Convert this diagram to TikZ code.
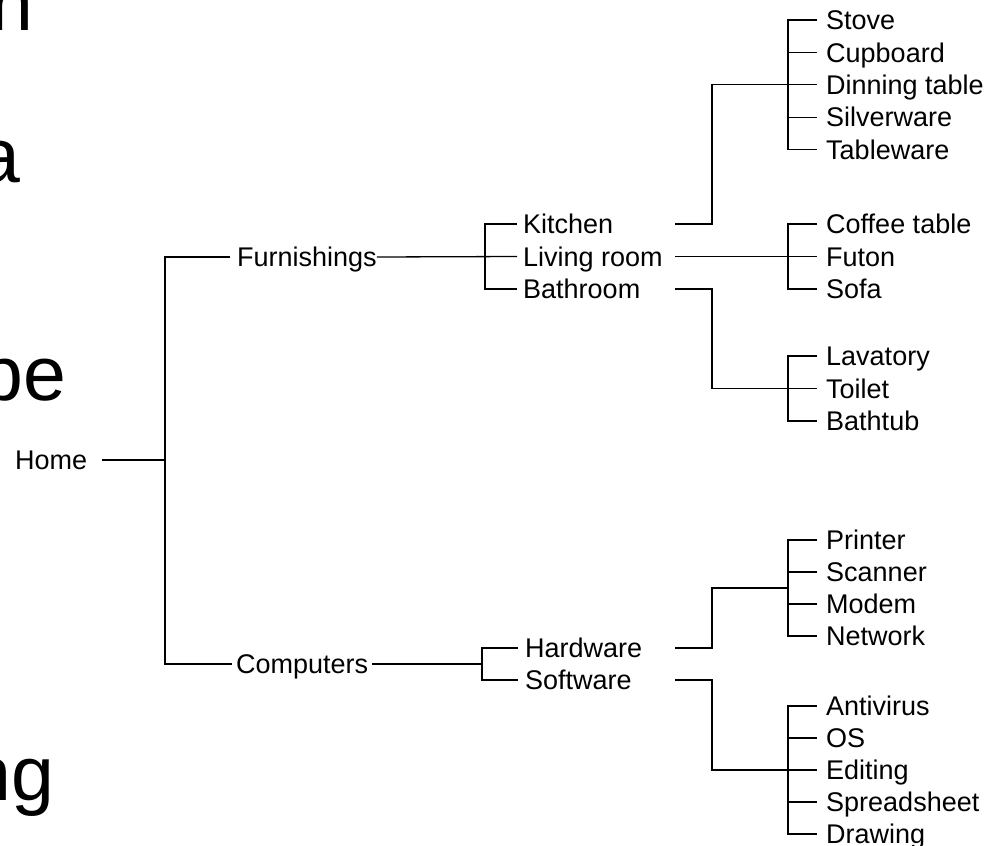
\documentclass[tikz,border=0pt]{standalone}
\usepackage{fontspec}
\setmainfont{Liberation Sans}
\tikzset{
  lbl/.style={anchor=west, inner xsep=0pt, inner ysep=0pt, text height=19.3pt, text depth=0pt, font=\fontsize{27}{27}\selectfont},
  big/.style={anchor=base west, inner sep=0pt, font=\fontsize{77}{77}\selectfont},
  conn/.style={line width=1.3pt, black}
}
\begin{document}
\begin{tikzpicture}[x=1pt,y=-1pt]
\useasboundingbox (0,0) rectangle (988,846);
% large text fragments cut by the left edge
\node[big] (bn) at (-9.7,30) {n};
\node[big] (ba) at (-22.8,182) {a};
\node[big] (bbe) at (-20,400) {be};
\node[big] (bng) at (-32,800) {ng};
% main labels
\node[lbl] (home) at (15,460) {Home};
\node[lbl] (furn) at (237,257) {Furnishings};
\node[lbl] (comp) at (236,664) {Computers};
\node[lbl] (kit) at (523,224) {Kitchen};
\node[lbl] (liv) at (523,256.5) {Living room};
\node[lbl] (bath) at (523,289) {Bathroom};
\node[lbl] (hw) at (525,648) {Hardware};
\node[lbl] (sw) at (525,680) {Software};
% leaves
\node[lbl] (stove) at (826,20) {Stove};
\node[lbl] (cb) at (826,52.4) {Cupboard};
\node[lbl] (dt) at (826,84.8) {Dinning table};
\node[lbl] (sil) at (826,117.2) {Silverware};
\node[lbl] (tw) at (826,149.6) {Tableware};
\node[lbl] (cof) at (826,224) {Coffee table};
\node[lbl] (fut) at (826,256.5) {Futon};
\node[lbl] (sofa) at (826,289) {Sofa};
\node[lbl] (lav) at (826,356) {Lavatory};
\node[lbl] (toil) at (826,388.5) {Toilet};
\node[lbl] (tub) at (826,421) {Bathtub};
\node[lbl] (pr) at (826,540) {Printer};
\node[lbl] (sc) at (826,572) {Scanner};
\node[lbl] (mo) at (826,604) {Modem};
\node[lbl] (net) at (826,636) {Network};
\node[lbl] (av) at (826,706) {Antivirus};
\node[lbl] (os) at (826,738) {OS};
\node[lbl] (ed) at (826,770) {Editing};
\node[lbl] (ss) at (826,802) {Spreadsheet};
\node[lbl] (dr) at (826,834) {Drawing};
% junction coordinates
\coordinate (t) at (165,460);
\coordinate (b1) at (485,256.5);
\coordinate (b2) at (482,664);
\coordinate (kx) at (675,224);
\coordinate (lx) at (675,256.5);
\coordinate (bx) at (675,289);
\coordinate (hx) at (675,648);
\coordinate (sx) at (675,680);
\coordinate (kv) at (712,84.8);
\coordinate (bv) at (712,388.5);
\coordinate (hv) at (712,588);
\coordinate (sv) at (712,770);
\coordinate (r1) at (788,84.8);
\coordinate (r2) at (788,256.5);
\coordinate (r3) at (788,388.5);
\coordinate (r4) at (788,588);
\coordinate (r5) at (788,770);
% trunk
\draw[conn] ([xshift=15pt]home.east) -- (t);
\draw[conn] ([xshift=-7pt]furn.west) -| (t) |- ([xshift=-4pt]comp.west);
% furnishings
\draw[conn] (furn.east) -- ([xshift=-6pt]liv.west);
\draw[conn] ([xshift=-6pt]kit.west) -| (b1) |- ([xshift=-6pt]bath.west);
% computers
\draw[conn] ([xshift=4pt]comp.east) -- (b2);
\draw[conn] ([xshift=-7pt]hw.west) -| (b2) |- ([xshift=-7pt]sw.west);
% kitchen
\draw[conn] (kx) -| (kv) -- ([xshift=-9pt]dt.west);
\draw[conn] ([xshift=-9pt]stove.west) -| (r1) |- ([xshift=-9pt]tw.west);
\draw[conn] ([xshift=-9pt]cb.west) -- (cb.west -| r1);
\draw[conn] ([xshift=-9pt]sil.west) -- (sil.west -| r1);
% living room
\draw[conn] (lx) -- ([xshift=-9pt]fut.west);
\draw[conn] ([xshift=-9pt]cof.west) -| (r2) |- ([xshift=-9pt]sofa.west);
% bathroom
\draw[conn] (bx) -| (bv) -- ([xshift=-9pt]toil.west);
\draw[conn] ([xshift=-9pt]lav.west) -| (r3) |- ([xshift=-9pt]tub.west);
% hardware
\draw[conn] (hx) -| (hv) -- (r4);
\draw[conn] ([xshift=-9pt]pr.west) -| (r4) |- ([xshift=-9pt]net.west);
\draw[conn] ([xshift=-9pt]sc.west) -- (sc.west -| r4);
\draw[conn] ([xshift=-9pt]mo.west) -- (mo.west -| r4);
% software
\draw[conn] (sx) -| (sv) -- ([xshift=-9pt]ed.west);
\draw[conn] ([xshift=-9pt]av.west) -| (r5) |- ([xshift=-9pt]dr.west);
\draw[conn] ([xshift=-9pt]os.west) -- (os.west -| r5);
\draw[conn] ([xshift=-9pt]ss.west) -- (ss.west -| r5);
\end{tikzpicture}
\end{document}
